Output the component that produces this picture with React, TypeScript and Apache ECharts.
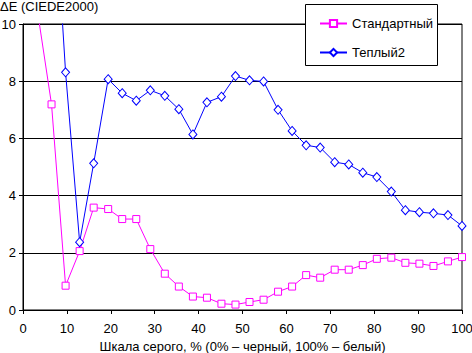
import React, { useEffect, useRef } from "react";
import * as echarts from "echarts";

const grayLevels = [0, 3.2, 6.5, 9.7, 12.9, 16.1, 19.4, 22.6, 25.8, 29.0, 32.3, 35.5, 38.7, 41.9, 45.2, 48.4, 51.6, 54.8, 58.1, 61.3, 64.5, 67.7, 71.0, 74.2, 77.4, 80.6, 83.9, 87.1, 90.3, 93.5, 96.8, 100];
const standardValues = [14.0, 10.55, 7.19, 0.85, 2.06, 3.58, 3.53, 3.18, 3.18, 2.13, 1.27, 0.82, 0.47, 0.43, 0.22, 0.19, 0.28, 0.36, 0.64, 0.82, 1.22, 1.13, 1.41, 1.41, 1.57, 1.79, 1.83, 1.65, 1.62, 1.54, 1.70, 1.85];
const warm2Values = [20.0, 18.0, 16.2, 8.31, 2.37, 5.13, 8.07, 7.58, 7.32, 7.68, 7.49, 7.02, 6.14, 7.26, 7.46, 8.18, 8.03, 7.99, 7.0, 6.26, 5.76, 5.68, 5.17, 5.09, 4.80, 4.65, 4.14, 3.49, 3.42, 3.38, 3.32, 2.94];
const seriesNames = ["Стандартный", "Теплый2"];
const yTitle = "ΔE (CIEDE2000)";
const xTitle = "Шкала серого, % (0% – черный, 100% – белый)";

const FONT = "Liberation Sans";

export default function App() {
  const ref = useRef<HTMLDivElement>(null);
  useEffect(() => {
    if (!ref.current) return;
    const chart = echarts.init(ref.current, null, { renderer: "svg" });
    const pair = (ys: number[]) => grayLevels.map((x, i) => [x, ys[i]]);
    chart.setOption({
      animation: false,
      backgroundColor: "#ffffff",
      textStyle: { fontFamily: FONT },
      grid: {
        left: 23,
        right: 10,
        top: 24,
        bottom: 43,
        outerBoundsMode: "none",
        containLabel: false,
        show: true,
        borderColor: "#000",
        borderWidth: 1,
        backgroundColor: "transparent",
      },
      xAxis: {
        type: "value",
        min: 0,
        max: 100,
        interval: 10,
        name: xTitle,
        nameLocation: "middle",
        nameGap: 29,
        nameTextStyle: { color: "#000", fontSize: 13, fontFamily: FONT },
        axisLine: { lineStyle: { color: "#000", width: 1 } },
        axisTick: { show: true, inside: false, length: 4, lineStyle: { color: "#000" } },
        axisLabel: { color: "#000", fontSize: 13, margin: 12, fontFamily: FONT },
        splitLine: { show: false },
      },
      yAxis: {
        type: "value",
        min: 0,
        max: 10,
        interval: 2,
        axisLine: { show: true, lineStyle: { color: "#000", width: 1 } },
        axisTick: { show: true, inside: false, length: 4, lineStyle: { color: "#000" } },
        axisLabel: { color: "#000", fontSize: 13, margin: 7, fontFamily: FONT },
        splitLine: { show: true, lineStyle: { color: "#000", width: 1 } },
      },
      legend: {
        orient: "vertical",
        left: 314,
        top: 12,
        itemGap: 16,
        itemWidth: 27,
        itemHeight: 9,
        z: 10,
        textStyle: { color: "#000", fontSize: 13, fontFamily: FONT },
        data: seriesNames,
      },
      graphic: [
        {
          type: "rect",
          z: 5,
          shape: { x: 305.5, y: 4.5, width: 132, height: 61 },
          style: { fill: "#fff", stroke: "#000", lineWidth: 1 },
        },
        {
          type: "text",
          left: 0,
          top: 0,
          style: { text: yTitle, fill: "#000", font: `13px "${FONT}"` },
        },
      ],
      series: [
        {
          name: seriesNames[0],
          type: "line",
          data: pair(standardValues),
          color: "#ff00ff",
          lineStyle: { color: "#ff00ff", width: 1 },
          symbol: "rect",
          symbolSize: 7,
          showAllSymbol: true,
          itemStyle: { color: "#fff", borderColor: "#ff00ff", borderWidth: 1 },
          clip: true,
          z: 3,
        },
        {
          name: seriesNames[1],
          type: "line",
          data: pair(warm2Values),
          color: "#0000ff",
          lineStyle: { color: "#0000ff", width: 1 },
          symbol: "diamond",
          symbolSize: [8, 9],
          showAllSymbol: true,
          itemStyle: { color: "#fff", borderColor: "#0000ff", borderWidth: 1 },
          clip: true,
          z: 4,
        },
      ],
    });
    return () => chart.dispose();
  }, []);
  return (
    <div
      ref={ref}
      style={{ position: "fixed", left: 0, top: 0, width: 472, height: 353 }}
    />
  );
}
